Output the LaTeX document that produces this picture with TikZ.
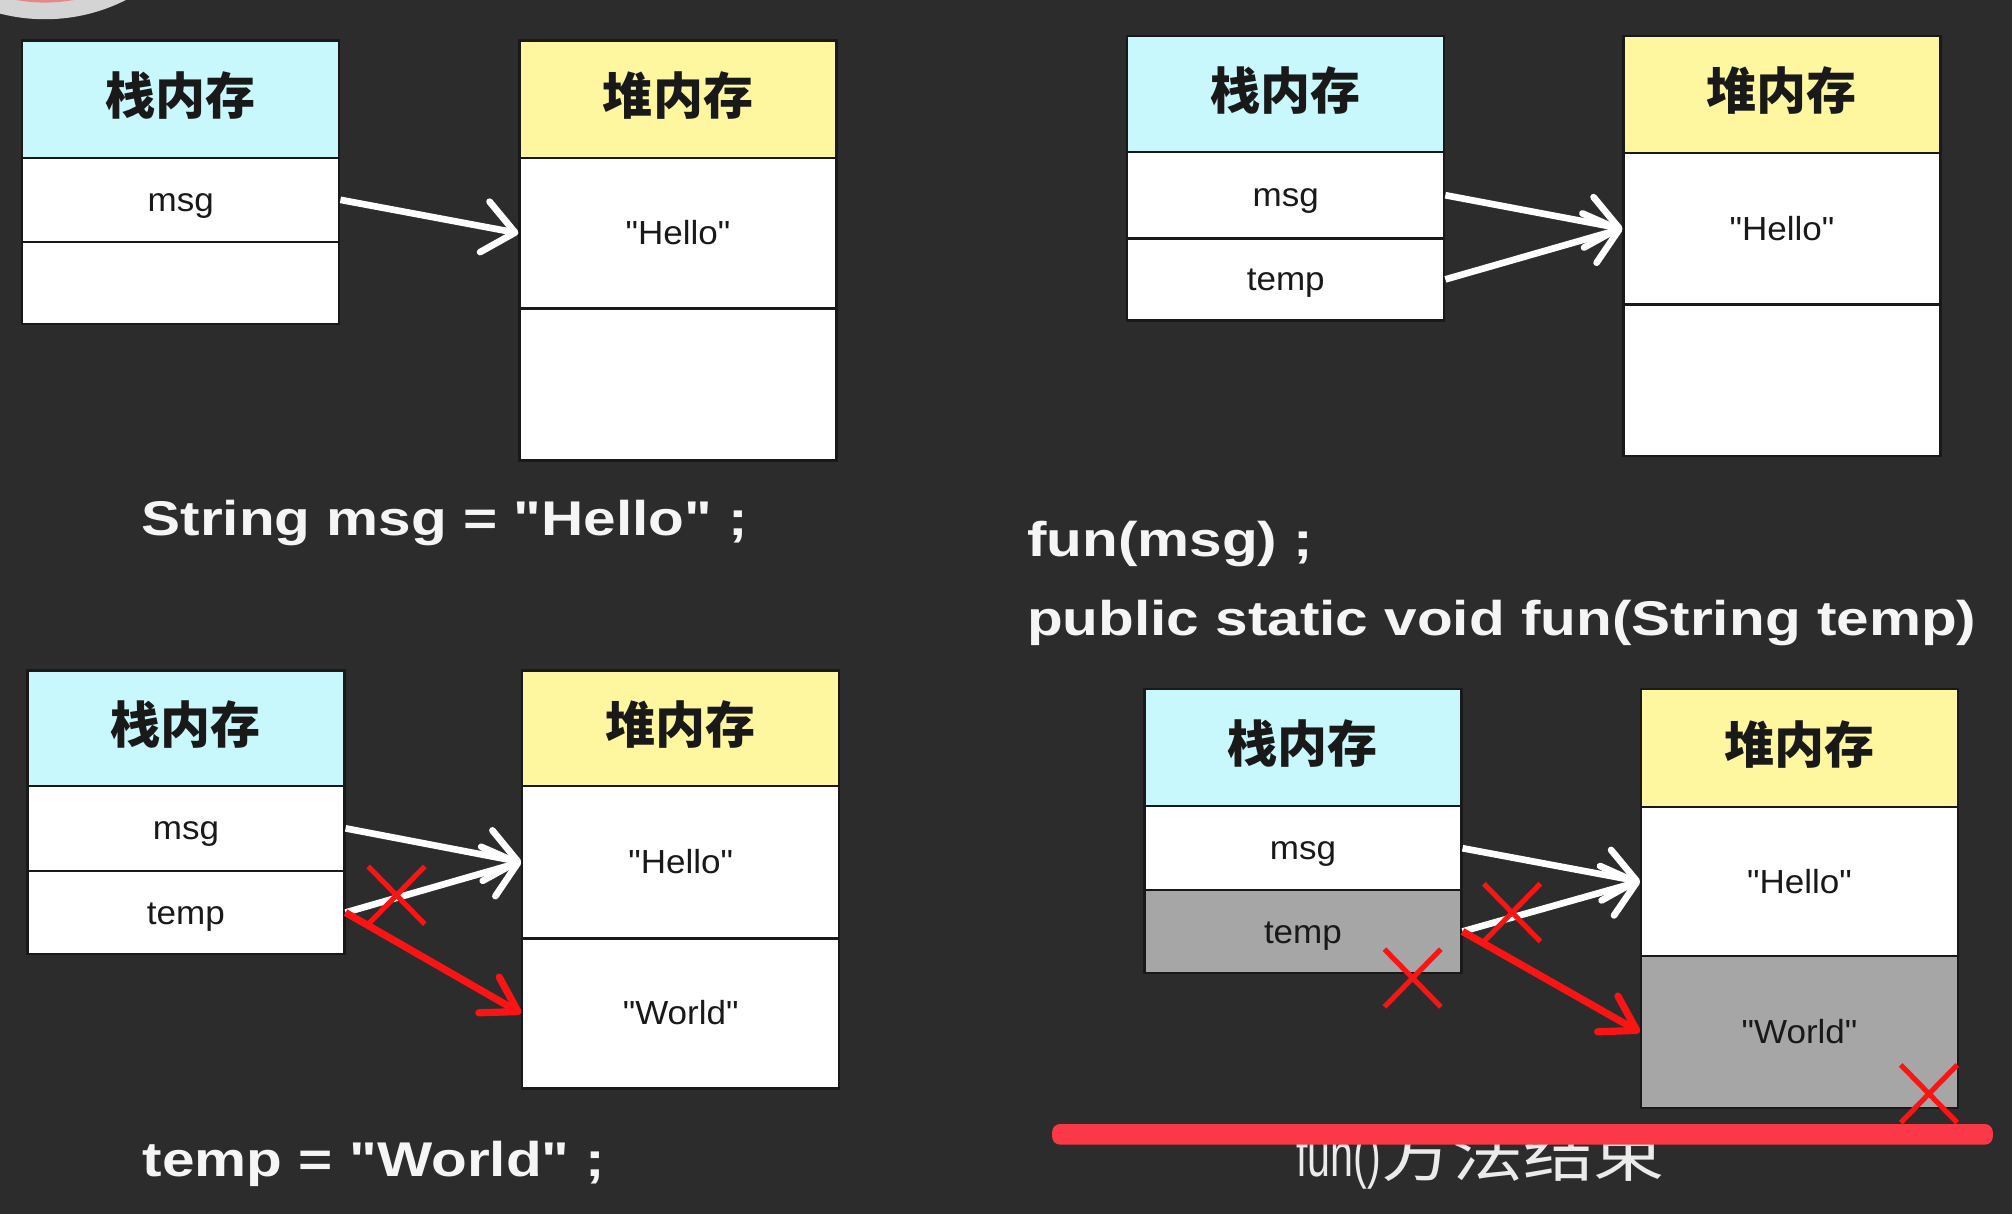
\documentclass[tikz,border=0pt]{standalone}
\usepackage{fontspec}
\setmainfont{Liberation Sans}
\newfontfamily\cellfont{Liberation Sans}[FakeStretch=1.05]
\newfontfamily\codefont{Liberation Sans}[FakeStretch=1.2]
\newfontfamily\funfont{Liberation Sans}[FakeStretch=0.67]
\newfontfamily\cjkhead{Noto Sans CJK SC}[FakeStretch=1.0]
\newfontfamily\cjkbig{Noto Sans CJK SC}[FakeStretch=1.15]
\usetikzlibrary{arrows.meta,shapes.misc}
\definecolor{bg}{RGB}{44,44,44}
\definecolor{stackc}{RGB}{200,247,252}
\definecolor{heapc}{RGB}{255,246,160}
\definecolor{deadc}{RGB}{166,166,166}
\definecolor{xred}{RGB}{250,20,20}
\definecolor{barred}{RGB}{250,56,72}
\definecolor{codec}{RGB}{245,245,245}
\definecolor{circc}{RGB}{212,212,212}
\newcommand\dq{\symbol{34}}
\begin{document}
\begin{tikzpicture}[x=0.5pt,y=-0.5pt,
  cell/.style={draw=black!90, line width=0.9pt, anchor=north west, minimum width=123.5pt,
    inner sep=0pt, fill=white, font=\cellfont\fontsize{13}{15}\selectfont, text=black!90,
    text height=9pt, text depth=0pt},
  stackhead/.style={cell, fill=stackc, font=\cjkhead\bfseries\fontsize{19.5}{22}\selectfont,
    text height=14pt, text depth=2pt},
  heaphead/.style={stackhead, fill=heapc},
  dead/.style={fill=deadc},
  warr/.style={draw=white, line width=2.6pt, -{Straight Barb[length=12pt,width=20pt,round]}},
  rarr/.style={draw=xred, line width=2.8pt, -{Straight Barb[length=13pt,width=16pt,round]}},
  xmark/.style={cross out, draw=xred, line width=2pt, inner sep=0pt, minimum width=20pt, minimum height=20.5pt},
  code/.style={anchor=base west, inner sep=0pt, text=codec, font=\codefont\bfseries\fontsize{19}{22}\selectfont}
]
\fill[bg] (0,0) rectangle (1568,946);
\useasboundingbox (0,0) rectangle (1568,946);
\begin{scope}
  \clip (0,0) rectangle (1568,946);
  \fill[circc] (35,-125) circle[radius=140];
  \fill[red!70!circc, opacity=0.5] (35,-125) circle[radius=127];
\end{scope}

% ---------- panel 1 ----------
\node[stackhead, minimum height=45.7pt] (s1h) at (16.5,30.7) {栈内存};
\node[cell, minimum height=32.75pt] (s1a) at (16.5,122.1) {msg};
\node[cell, minimum height=32.1pt] (s1b) at (16.5,187.6) {};
\node[heaphead, minimum height=45.7pt] (h1h) at (404,30.7) {堆内存};
\node[cell, minimum height=58.7pt] (h1a) at (404,122.1) {\dq Hello\dq};
\node[cell, minimum height=59.2pt] (h1b) at (404,239.5) {};
\draw[warr] (s1a.east) -- (h1a.west);
\node[code] (c1) at (110,417.5) {String msg = \dq Hello\dq\ ;};

% ---------- panel 2 ----------
\node[stackhead, minimum height=45.15pt] (s2h) at (877.6,27.3) {栈内存};
\node[cell, minimum height=33.65pt] (s2a) at (877.6,117.6) {msg};
\node[cell, minimum height=31.95pt] (s2b) at (877.6,184.9) {temp};
\node[heaphead, minimum height=45.45pt] (h2h) at (1264.3,27.3) {堆内存};
\node[cell, minimum height=59.1pt] (h2a) at (1264.3,118.2) {\dq Hello\dq};
\node[cell, minimum height=59.1pt] (h2b) at (1264.3,236.4) {};
\draw[warr] (s2a.east) -- (h2a.west);
\draw[warr] (s2b.east) -- (h2a.west);
\node[code] (c2) at (800,434) {fun(msg) ;};
\node[code] (c3) at (800,495) {public static void fun(String temp)};

% ---------- panel 3 ----------
\node[stackhead, minimum height=44.9pt] (s3h) at (20.5,521.6) {栈内存};
\node[cell, minimum height=33.25pt] (s3a) at (20.5,611.4) {msg};
\node[cell, minimum height=32.35pt] (s3b) at (20.5,677.9) {temp};
\node[heaphead, minimum height=44.9pt] (h3h) at (406.1,521.6) {堆内存};
\node[cell, minimum height=59.5pt] (h3a) at (406.1,611.4) {\dq Hello\dq};
\node[cell, minimum height=58.45pt] (h3b) at (406.1,730.4) {\dq World\dq};
\draw[warr] (s3a.east) -- (h3a.west);
\draw[warr] (s3b.east) -- (h3a.west);
\draw[rarr] (s3b.east) -- (h3b.west);
\node[xmark] (x1) at (309,697.7) {};
\node[code] (c4) at (111,916.6) {temp = \dq World\dq\ ;};

% ---------- panel 4 ----------
\node[stackhead, minimum height=45.85pt] (s4h) at (891,535.8) {栈内存};
\node[cell, minimum height=32.65pt] (s4a) at (891,627.5) {msg};
\node[cell, dead, minimum height=32.2pt] (s4b) at (891,692.8) {temp};
\node[heaphead, minimum height=46pt] (h4h) at (1278,535.8) {堆内存};
\node[cell, minimum height=58.25pt] (h4a) at (1278,627.8) {\dq Hello\dq};
\node[cell, dead, minimum height=59.2pt] (h4b) at (1278,744.3) {\dq World\dq};
\draw[warr] (s4a.east) -- (h4a.west);
\draw[warr] (s4b.east) -- (h4a.west);
\draw[rarr] (s4b.east) -- (h4b.west);
\node[xmark] (x2) at (1178.4,711.2) {};
\node[xmark] (x3) at (1100.9,762.2) {};
\node[xmark] (x4) at (1503.3,852.4) {};
\node[anchor=base west, inner sep=0pt, text=black!8] (c5) at (1010,917)
  {{\funfont\fontsize{24}{28}\selectfont fun()}{\cjkbig\fontsize{24}{28}\selectfont 方法结束}};
\fill[barred, rounded corners=3pt] (820,876) rectangle (1553,892);
\end{tikzpicture}
\end{document}
